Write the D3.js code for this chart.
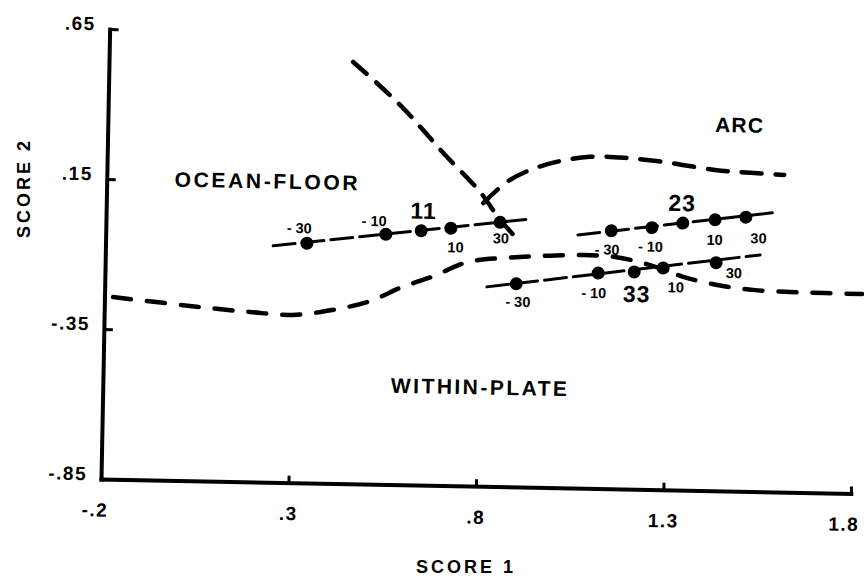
<!DOCTYPE html>
<html>
<head>
<meta charset="UTF-8">
<style>
body, html {
    margin: 0;
    padding: 0;
    background: #ffffff;
    overflow: hidden;
}
svg text {
    font-family: "Liberation Sans", Arial, sans-serif;
    font-weight: bold;
    fill: #000;
}
</style>
</head>
<body>
<svg id="chart" width="864" height="579"></svg>
<script src="https://d3js.org/d3.v7.min.js"></script>
<script>
// axis ticks
const xTicks = [-0.2, 0.3, 0.8, 1.3, 1.8];
const xTickLabels = ["-.2", ".3", ".8", "1.3", "1.8"];
const yTicks = [-0.85, -0.35, 0.15, 0.65];
const yTickLabels = ["-.85", "-.35", ".15", ".65"];

// sample series (score 1, score 2)
const seriesNames = ["11", "23", "33"];
const s11x = [0.337, 0.547, 0.641, 0.720, 0.851];
const s11y = [-0.051, -0.016, -0.002, 0.008, 0.031];
const s23x = [1.148, 1.256, 1.338, 1.424, 1.506];
const s23y = [0.010, 0.023, 0.040, 0.053, 0.064];
const s33x = [0.897, 1.115, 1.211, 1.288, 1.429];
const s33y = [-0.173, -0.132, -0.126, -0.111, -0.090];
const pointLabels = ["-30", "-10", "", "10", "30"];

// trend lines through each series (ends)
const fit11 = [[0.247, -0.062], [0.931, 0.044]];
const fit23 = [[1.059, -0.006], [1.576, 0.080]];
const fit33 = [[0.819, -0.185], [1.546, -0.061]];

// field boundaries
const lowerX = [-0.177, -0.044, 0.077, 0.189, 0.301, 0.407, 0.508, 0.593, 0.672, 0.768, 0.871,
                0.965, 1.066, 1.159, 1.253, 1.342, 1.433, 1.529, 1.628, 1.721, 1.82];
const lowerY = [-0.243, -0.259, -0.273, -0.284, -0.291, -0.272, -0.240, -0.191, -0.155, -0.103, -0.087,
                -0.078, -0.073, -0.077, -0.102, -0.139, -0.164, -0.178, -0.183, -0.184, -0.185];
const diagX = [0.451, 0.578, 0.701, 0.796, 0.851, 0.905];
const diagY = [0.556, 0.416, 0.252, 0.131, 0.039, -0.033];
const arcX = [0.805, 0.867, 0.928, 0.998, 1.087, 1.181, 1.301, 1.421, 1.515, 1.606];
const arcY = [0.094, 0.166, 0.207, 0.236, 0.255, 0.254, 0.240, 0.219, 0.212, 0.207];

// field names
const fieldNames = ["OCEAN-FLOOR", "WITHIN-PLATE", "ARC"];
const fieldX = [0.225, 0.803, 1.483];
const fieldY = [0.154, -0.519, 0.371];

let svg = d3.select("#chart");

let x = d3.scaleLinear().domain([-0.2, 1.8]).range([101, 851]);
let y = d3.scaleLinear().domain([-0.85, 0.65]).range([479, 29]);

// the scanned page is a bit tilted
let g = svg.append("g").attr("transform", "rotate(1.1,101,479)");

// axes
let yAxis = d3.axisLeft(y)
    .tickValues(yTicks)
    .tickFormat((d, i) => yTickLabels[i])
    .tickSizeInner(-9)
    .tickSizeOuter(0)
    .tickPadding(14);
let xAxis = d3.axisBottom(x)
    .tickValues(xTicks)
    .tickFormat((d, i) => xTickLabels[i])
    .tickSizeInner(-7)
    .tickSizeOuter(0)
    .tickPadding(24);

let gy = g.append("g").attr("transform", "translate(101,0)").call(yAxis);
let gx = g.append("g").attr("transform", "translate(0,479)").call(xAxis);

[gy, gx].forEach(a => {
    a.select(".domain").attr("stroke", "#000").attr("stroke-width", 4).attr("stroke-linecap", "square");
    a.selectAll(".tick line").attr("stroke", "#000").attr("stroke-width", 3);
    a.selectAll(".tick text")
        .attr("font-size", 19)
        .attr("font-family", "Liberation Sans, Arial, sans-serif")
        .attr("font-weight", "bold")
        .attr("letter-spacing", 1.5)
        .attr("fill", "#000");
});
gy.selectAll(".tick text").attr("dy", "0.05em");
gx.selectAll(".tick text").filter(d => d === 1.8).attr("dx", -7);
gx.selectAll(".tick text").filter(d => d === -0.2).attr("dx", -6);

// boundaries
let curve = d3.line().x(d => x(d[0])).y(d => y(d[1])).curve(d3.curveCatmullRom);

g.append("path")
    .datum(d3.zip(lowerX, lowerY))
    .attr("d", curve)
    .attr("fill", "none")
    .attr("stroke", "#000")
    .attr("stroke-width", 4.5)
    .attr("stroke-linecap", "round")
    .attr("stroke-dasharray", "18,16");

g.append("path")
    .datum(d3.zip(diagX, diagY))
    .attr("d", curve)
    .attr("fill", "none")
    .attr("stroke", "#000")
    .attr("stroke-width", 4.5)
    .attr("stroke-linecap", "round")
    .attr("stroke-dasharray", "18,13");

g.append("path")
    .datum(d3.zip(arcX, arcY))
    .attr("d", curve)
    .attr("fill", "none")
    .attr("stroke", "#000")
    .attr("stroke-width", 4.5)
    .attr("stroke-linecap", "round")
    .attr("stroke-dasharray", "20,14");

// series
let series = [
    { name: seriesNames[0], xs: s11x, ys: s11y, fit: fit11 },
    { name: seriesNames[1], xs: s23x, ys: s23y, fit: fit23 },
    { name: seriesNames[2], xs: s33x, ys: s33y, fit: fit33 }
];

// label placement (pixels from the point)
let labelOffsets = [
    [[-8, -15], [-12, -13], null, [5, 19], [1, 16]],
    [[-4, 19], [-1, 19], null, [0, 20], [13, 21]],
    [[2, 18], [-4, 20], null, [13, 19], [18, 10]]
];
let nameOffsets = [[2, -20], [-1, -20], [3, 22]];

series.forEach((s, si) => {
    g.append("path")
        .datum(s.fit)
        .attr("d", d3.line().x(d => x(d[0])).y(d => y(d[1])))
        .attr("stroke", "#000")
        .attr("stroke-width", 3)
        .attr("stroke-linecap", "round")
        .attr("stroke-dasharray", "22,7");

    let pts = d3.zip(s.xs, s.ys).map((d, i) => ({ x: d[0], y: d[1], label: pointLabels[i], i: i }));

    g.append("g").selectAll("circle")
        .data(pts)
        .enter()
        .append("circle")
        .attr("cx", d => x(d.x))
        .attr("cy", d => y(d.y))
        .attr("r", 6.5)
        .attr("fill", "#000");

    let lbl = g.append("g").selectAll("text")
        .data(pts.filter(d => d.label !== ""))
        .enter()
        .append("text")
        .attr("x", d => x(d.x) + labelOffsets[si][d.i][0])
        .attr("y", d => y(d.y) + labelOffsets[si][d.i][1])
        .attr("text-anchor", "middle")
        .attr("dominant-baseline", "central")
        .attr("font-family", "DejaVu Sans, sans-serif")
        .attr("font-size", 14.5);

    lbl.filter(d => d.label.startsWith("-"))
        .append("tspan").text("-");
    lbl.append("tspan")
        .attr("dx", d => d.label.startsWith("-") ? 4 : 0)
        .text(d => d.label.replace("-", ""));

    g.append("text")
        .attr("x", x(s.xs[2]) + nameOffsets[si][0])
        .attr("y", y(s.ys[2]) + nameOffsets[si][1])
        .attr("text-anchor", "middle")
        .attr("dominant-baseline", "central")
        .attr("font-size", 23)
        .attr("letter-spacing", 1)
        .text(s.name);
});

// field names
let fieldWidths = [183, 176, 48];
g.selectAll(".field")
    .data(fieldNames)
    .enter()
    .append("text")
    .attr("class", "field")
    .attr("x", (d, i) => x(fieldX[i]))
    .attr("y", (d, i) => y(fieldY[i]))
    .attr("text-anchor", "middle")
    .attr("dominant-baseline", "central")
    .attr("font-size", 21)
    .attr("textLength", (d, i) => fieldWidths[i])
    .attr("lengthAdjust", "spacing")
    .text(d => d);

// axis titles
svg.append("text")
    .attr("x", 466)
    .attr("y", 573)
    .attr("text-anchor", "middle")
    .attr("font-size", 18)
    .attr("letter-spacing", 3)
    .text("SCORE 1");

svg.append("text")
    .attr("transform", "translate(30,188) rotate(-90)")
    .attr("text-anchor", "middle")
    .attr("font-size", 18)
    .attr("letter-spacing", 3)
    .text("SCORE 2");
</script>
</body>
</html>
